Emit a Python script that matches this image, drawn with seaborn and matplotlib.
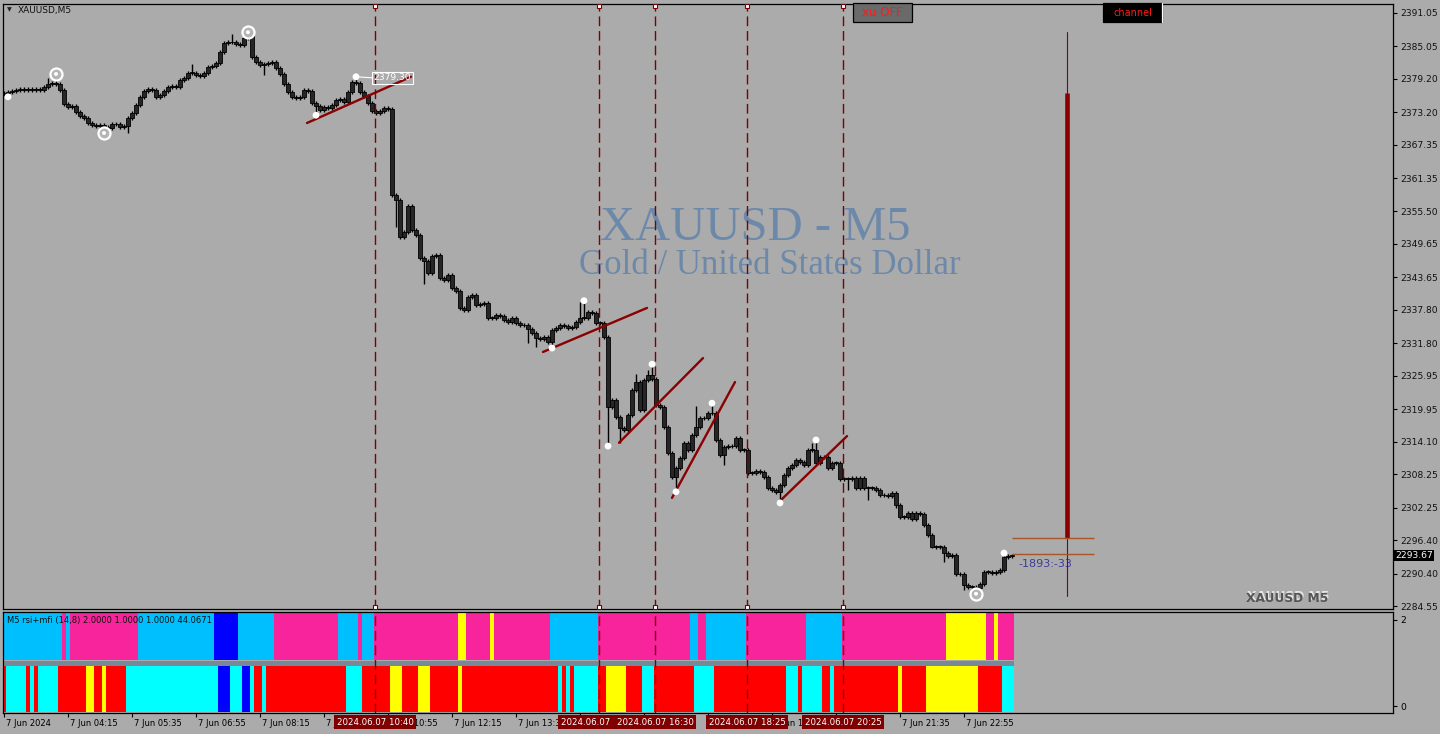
import matplotlib
matplotlib.use("Agg")
import matplotlib.pyplot as plt
import matplotlib.patches as mpatches
import matplotlib.transforms as mtransforms
import pandas as pd
import seaborn as sns

W, H = 1440, 734
BG = "#ababab"
DARKRED = "#800000"

# XAUUSD M5 closes, 7 Jun 2024 (one per bar)
closes = [
    2376.7, 2376.9, 2377.0, 2377.2, 2377.4, 2377.2, 2377.4, 2377.2, 2377.4, 2377.2,
    2377.8, 2378.3, 2378.5, 2378.3, 2377.2, 2374.7, 2374.2, 2374.4, 2373.3, 2372.6,
    2372.2, 2371.3, 2371.0, 2370.8, 2371.0, 2370.6, 2370.4, 2371.1, 2371.1, 2370.6,
    2370.8, 2372.2, 2373.1, 2374.5, 2376.0, 2377.0, 2377.4, 2377.2, 2376.0, 2376.3,
    2377.0, 2377.8, 2377.9, 2377.8, 2379.0, 2379.4, 2380.3, 2380.3, 2379.9, 2379.7,
    2380.3, 2381.4, 2381.5, 2382.1, 2384.0, 2385.7, 2385.8, 2385.8, 2385.5, 2385.3,
    2386.6, 2386.9, 2383.1, 2382.3,
    2381.7, 2381.9, 2382.1, 2382.3, 2381.2, 2380.1, 2378.3, 2376.9, 2376.0, 2375.8,
    2376.0, 2377.2, 2377.0, 2374.9, 2374.4, 2373.6, 2374.2, 2374.0, 2374.5, 2375.4,
    2375.6, 2375.1, 2376.9, 2378.7, 2378.5, 2376.9, 2376.1, 2374.9, 2373.5, 2373.1,
    2373.5, 2374.0, 2373.8, 2358.4, 2357.5, 2350.8, 2351.7, 2356.4, 2352.1, 2351.2,
    2347.1, 2346.5, 2344.4, 2347.4, 2347.6, 2343.5, 2343.1, 2344.0, 2341.7, 2341.1,
    2338.1, 2337.7, 2340.1, 2340.4, 2338.6, 2338.8, 2339.0, 2336.3, 2336.3, 2336.8,
    2336.7, 2335.9, 2335.6,
    2336.3, 2335.4, 2335.0, 2335.0, 2334.3, 2333.6, 2332.7, 2332.5, 2332.9, 2332.0,
    2334.1, 2334.5, 2335.0, 2334.9, 2334.5, 2334.7, 2335.6, 2336.3, 2336.3, 2337.4,
    2337.2, 2335.4, 2335.4, 2332.9, 2320.3, 2321.6, 2318.5, 2316.6, 2316.2, 2318.9,
    2323.4, 2324.8, 2319.8, 2325.2, 2326.1, 2325.4, 2320.7, 2320.3, 2316.7, 2312.1,
    2307.8, 2309.4, 2311.2, 2313.9, 2312.6, 2315.3, 2316.7, 2318.3, 2318.3, 2319.2,
    2319.2, 2314.4, 2311.7, 2313.1, 2313.3, 2313.3, 2314.8, 2312.6, 2312.6,
    2308.5, 2308.5, 2308.8, 2308.7, 2307.8, 2305.8, 2305.4, 2305.1, 2306.3, 2308.1,
    2309.4, 2309.9, 2310.8, 2310.5, 2309.9, 2312.6, 2312.6, 2310.3, 2311.3, 2311.3,
    2309.4, 2310.3, 2310.3, 2307.4, 2307.4, 2307.4, 2307.6, 2305.8, 2307.6, 2305.8,
    2305.8, 2305.8, 2305.4, 2304.5, 2304.5, 2304.4, 2304.9, 2302.7, 2300.6, 2300.6,
    2301.3, 2300.2, 2301.3, 2301.1, 2299.1, 2297.4, 2295.2, 2295.2, 2295.2, 2294.1,
    2293.6, 2293.8, 2290.3, 2290.3, 2288.4, 2288.0, 2288.0, 2287.8, 2288.6, 2290.7,
    2290.7, 2290.5, 2290.7, 2291.1, 2293.4, 2293.6, 2293.67,
]
first_open = 2376.5

# the longer wicks that stand out (bar index -> price)
wick_highs = {11: 2379.4, 13: 2380.1, 47: 2381.9, 57: 2387.3, 61: 2387.6, 88: 2379.6,
              144: 2339.2, 145: 2339.4, 158: 2326.3, 161: 2327.0, 162: 2328.0,
              173: 2320.5, 177: 2321.0, 202: 2313.9, 203: 2314.4, 250: 2294.1}
wick_lows = {1: 2376.0, 25: 2369.5, 31: 2369.5, 65: 2379.9, 78: 2372.7, 98: 2352.6,
             105: 2342.4, 131: 2331.8, 133: 2331.1, 137: 2330.9, 151: 2313.3,
             154: 2313.9, 168: 2305.1, 180: 2309.9, 194: 2303.1, 211: 2305.4,
             216: 2303.6, 223: 2302.2, 232: 2295.0, 235: 2292.5, 240: 2287.5, 243: 2286.8}

# fractal markers
dot_idx = [1, 78, 88, 137, 145, 151, 162, 168, 177, 194, 203, 250]
dot_price = [2376.0, 2372.7, 2379.6, 2330.9, 2339.4, 2313.3, 2328.0, 2305.1, 2321.0,
             2303.1, 2314.4, 2294.1]
ring_idx = [13, 25, 61, 243]
ring_price = [2380.1, 2369.5, 2387.6, 2286.8]

# channel lines: (start bar, start price, end bar, end price)
trend_lines = [(75.75, 2371.3, 101.75, 2379.6),
               (134.75, 2330.2, 160.75, 2338.1),
               (153.75, 2313.9, 174.75, 2329.1),
               (167.0, 2304.0, 182.75, 2324.8),
               (193.5, 2303.1, 210.75, 2315.1)]

vline_idx = [92.75, 148.75, 162.75, 185.75, 209.75]
vline_text = ["2024.06.07 10:40", "2024.06.07 15:20", "2024.06.07 16:30",
              "2024.06.07 18:25", "2024.06.07 20:25"]

price_ticks = [2391.05, 2385.05, 2379.20, 2373.20, 2367.35, 2361.35, 2355.50, 2349.65,
               2343.65, 2337.80, 2331.80, 2325.95, 2319.95, 2314.10, 2308.25, 2302.25,
               2296.40, 2290.40, 2284.55]
last_price = 2293.67

# time scale; labels that sit wholly under the date boxes are left blank
time_idx = [0, 16, 32, 48, 64, 80, 96, 112, 128, 144, 160, 176, 192, 208, 224, 240]
time_labels = ["7 Jun 2024", "7 Jun 04:15", "7 Jun 05:35", "7 Jun 06:55", "7 Jun 08:15",
               "7 Jun 09:35", "7 Jun 10:55", "7 Jun 12:15", "7 Jun 13:35", "",
               "", "", "7 Jun 18:55", "", "7 Jun 21:35", "7 Jun 22:55"]

# rsi+mfi colour state per bar, as runs
top_runs = [("B", 15), ("P", 1), ("B", 1), ("P", 17), ("B", 19), ("D", 6), ("B", 9),
            ("P", 16), ("B", 5), ("P", 1), ("B", 3), ("P", 21), ("Y", 2), ("P", 6),
            ("Y", 1), ("P", 14), ("B", 12), ("P", 23), ("B", 2), ("P", 2), ("B", 10),
            ("P", 15), ("B", 9), ("P", 26), ("Y", 10), ("P", 2), ("Y", 1), ("P", 4)]
bottom_runs = [("R", 1), ("C", 5), ("R", 1), ("C", 1), ("R", 1), ("C", 5), ("R", 7),
               ("Y", 2), ("R", 2), ("Y", 1), ("R", 5), ("C", 23), ("D", 3), ("C", 3),
               ("D", 2), ("C", 1), ("R", 2), ("C", 1), ("R", 20), ("C", 4), ("R", 7),
               ("Y", 3), ("R", 4), ("Y", 3), ("R", 7), ("Y", 1), ("R", 24), ("C", 1),
               ("R", 1), ("C", 1), ("R", 1), ("C", 6), ("R", 2), ("Y", 5), ("R", 4),
               ("C", 3), ("R", 10), ("C", 5), ("R", 18), ("C", 3), ("R", 1), ("C", 5),
               ("R", 2), ("C", 1), ("R", 16), ("Y", 1), ("R", 6), ("Y", 13), ("R", 6),
               ("C", 3)]
state_colors = {"B": "#00bfff", "P": "#f7249b", "Y": "#ffff00", "D": "#0000ff",
                "C": "#00ffff", "R": "#ff0000"}

sns.set_theme(style="ticks", rc={"figure.facecolor": BG, "axes.facecolor": BG,
                                 "axes.edgecolor": "black", "axes.linewidth": 0.9})
plt.rcParams["font.family"] = ["DejaVu Sans"]


def fx(x):
    return x / W


def fy(y):
    return 1 - y / H


fig = plt.figure(figsize=(W / 100, H / 100), dpi=100)
ax = fig.add_axes([fx(3), fy(609), (1393 - 3) / W, (609 - 4) / H])
ax2 = fig.add_axes([fx(3), fy(713), (1393 - 3) / W, (713 - 612) / H])

# ---- price panel
df = pd.DataFrame({"close": closes})
df["open"] = [first_open] + closes[:-1]
df["top"] = df[["open", "close"]].max(axis=1)
df["bot"] = df[["open", "close"]].min(axis=1)
df["high"] = [wick_highs.get(i, t + 0.35) for i, t in enumerate(df["top"])]
df["low"] = [wick_lows.get(i, b - 0.35) for i, b in enumerate(df["bot"])]

ax.vlines(df.index, df["low"], df["high"], color="black", lw=1.0, zorder=3)
ax.bar(df.index, (df["top"] - df["bot"]).clip(lower=0.1), bottom=df["bot"], width=0.78,
       color="#262626", edgecolor="black", linewidth=0.6, zorder=4)

for i0, p0, i1, p1 in trend_lines:
    ax.plot([i0, i1], [p0, p1], color="#8b0000", lw=1.7, zorder=5, solid_capstyle="round")

sns.scatterplot(x=dot_idx, y=dot_price, ax=ax, color="white", s=24, edgecolor="none", zorder=6)
sns.scatterplot(x=ring_idx, y=ring_price, ax=ax, color="#b5b5b5", s=75, edgecolor="white",
                linewidth=1.6, zorder=6)
sns.scatterplot(x=ring_idx, y=ring_price, ax=ax, color="white", s=8, edgecolor="none", zorder=7)

# price tag of the marked high
ax.plot([88, 92.2], [2379.6, 2379.4], color="white", lw=0.8, zorder=6)
ax.text(92.4, 2379.4, "2379.30", color="white", fontsize=6.6, va="center", ha="left", zorder=7,
        bbox=dict(boxstyle="square,pad=0.15", fc="none", ec="white", lw=0.8))

for xv in vline_idx:
    for a in (ax, ax2):
        a.axvline(xv, color=DARKRED, lw=1.0, dashes=(7, 3.5), zorder=5)
    for yy in (0.997, 0.004):
        ax.plot([xv], [yy], "s", ms=3.5, mfc="white", mec=DARKRED, mew=0.8, clip_on=False,
                transform=mtransforms.blended_transform_factory(ax.transData, ax.transAxes),
                zorder=8)

# right-side objects
ax.plot([265.75, 265.75], [2286.4, 2387.6], color="#8b0000", lw=0.8, zorder=4)
ax.plot([265.75, 265.75], [2296.8, 2376.7], color="#8b0000", lw=3.3, zorder=4,
        solid_capstyle="butt")
ax.hlines([2296.8, 2293.9], 252, 272.5, color="#a5562a", lw=1.0, zorder=5)
ax.text(253.5, 2292.2, "-1893:-33", color="#3c3c9c", fontsize=8, va="center", ha="left")

ax.text(fx(755), fy(240), "XAUUSD - M5", transform=fig.transFigure, fontsize=35,
        family="Liberation Serif", color="#6d89a9", ha="center", va="baseline", zorder=0)
ax.text(fx(770), fy(274), "Gold / United States Dollar", transform=fig.transFigure, fontsize=25,
        family="Liberation Serif", color="#6d89a9", ha="center", va="baseline", zorder=0)
ax.text(fx(1288), fy(597), "XAUUSD M5", transform=fig.transFigure, fontsize=8.8,
        fontweight="bold", color="#e6e6e6", ha="center", va="center", zorder=1)
ax.text(fx(1287), fy(598), "XAUUSD M5", transform=fig.transFigure, fontsize=8.8,
        fontweight="bold", color="#555555", ha="center", va="center", zorder=1)

ax.set_xlim(-0.25, 347.25)
ax.set_ylim(2284.06, 2392.66)
ax.set_xlabel("")
ax.set_ylabel("")
ax.tick_params(axis="x", bottom=False, labelbottom=False)
ax.yaxis.tick_right()
ax.set_yticks(price_ticks, [f"{v:.2f}" for v in price_ticks])
ax.tick_params(axis="y", direction="out", length=3, width=0.8, pad=2, labelsize=6.6,
               colors="black", labelcolor="#111111")
ax.text(1.0015, last_price, f"{last_price:.2f}", color="white", fontsize=6.6, va="center",
        ha="left", transform=mtransforms.blended_transform_factory(ax.transAxes, ax.transData),
        bbox=dict(boxstyle="square,pad=0.15", fc="black", ec="none"), zorder=10, clip_on=False)
for s in ax.spines.values():
    s.set_color("black")
    s.set_linewidth(0.9)

# ---- indicator panel
top_codes = "".join(c * n for c, n in top_runs)
bottom_codes = "".join(c * n for c, n in bottom_runs)
ax2.bar(range(len(top_codes)), 2.15 - 1.06, bottom=1.06, width=0.83,
        color=[state_colors[c] for c in top_codes], linewidth=0, zorder=2)
ax2.bar(range(len(bottom_codes)), 0.92 + 0.14, bottom=-0.14, width=0.83,
        color=[state_colors[c] for c in bottom_codes], linewidth=0, zorder=2)
ax2.fill_between([-0.5, len(top_codes) - 0.5], 0.92, 1.05, color="#778899", lw=0, zorder=2)
ax2.text(0.003, 0.92, "M5 rsi+mfi (14,8) 2.0000 1.0000 1.0000 44.0671", transform=ax2.transAxes,
         fontsize=6.0, color="#111111", va="center", ha="left", zorder=6)

ax2.set_xlim(-0.25, 347.25)
ax2.set_ylim(-0.16, 2.18)
ax2.yaxis.tick_right()
ax2.set_yticks([0, 2], ["0", "2"])
ax2.tick_params(axis="y", direction="out", length=3, width=0.8, pad=2, labelsize=6.6,
                colors="black")
ax2.set_xticks(time_idx, time_labels)
ax2.tick_params(axis="x", direction="out", length=3, width=0.8, pad=1.5, labelsize=6.0,
                colors="black")
shift = mtransforms.ScaledTranslation(0.02, 0, fig.dpi_scale_trans)
for lab in ax2.get_xticklabels():
    lab.set_horizontalalignment("left")
    lab.set_transform(lab.get_transform() + shift)
for s in ax2.spines.values():
    s.set_color("black")
    s.set_linewidth(0.9)

low_tf = mtransforms.blended_transform_factory(ax2.transData, ax2.transAxes)
for k, (xv, txt) in enumerate(zip(vline_idx, vline_text)):
    ax2.text(xv, -0.09, txt, transform=low_tf, ha="center", va="center", color="white",
             fontsize=6.2, zorder=10 + k, clip_on=False,
             bbox=dict(boxstyle="square,pad=0.25", fc=DARKRED, ec="none"))

# ---- header widgets
fig.text(fx(7), fy(10), "\u25bc", fontsize=4.5, color="#222222", va="center", ha="left")
fig.text(fx(18), fy(10), "XAUUSD,M5", fontsize=6.5, color="#111111", va="center", ha="left")
fig.add_artist(mpatches.Rectangle((fx(853), fy(22)), 59 / W, 19 / H, transform=fig.transFigure,
                                  fc="#6a6a6a", ec="black", lw=0.9, zorder=20))
fig.text(fx(882), fy(13), "xu OFF", fontsize=8.5, color="#ff1a1a", ha="center", va="center",
         zorder=21)
fig.add_artist(mpatches.Rectangle((fx(1103), fy(22)), 59 / W, 19 / H, transform=fig.transFigure,
                                  fc="black", ec="black", lw=0.9, zorder=20))
fig.add_artist(plt.Line2D([fx(1162), fx(1162)], [fy(22), fy(3)], transform=fig.transFigure,
                          color="white", lw=0.9, zorder=21))
fig.text(fx(1133), fy(13), "channel", fontsize=7, color="#ff1a1a", ha="center", va="center",
         zorder=21)

fig.savefig("out.png", dpi=100, facecolor=fig.get_facecolor())
